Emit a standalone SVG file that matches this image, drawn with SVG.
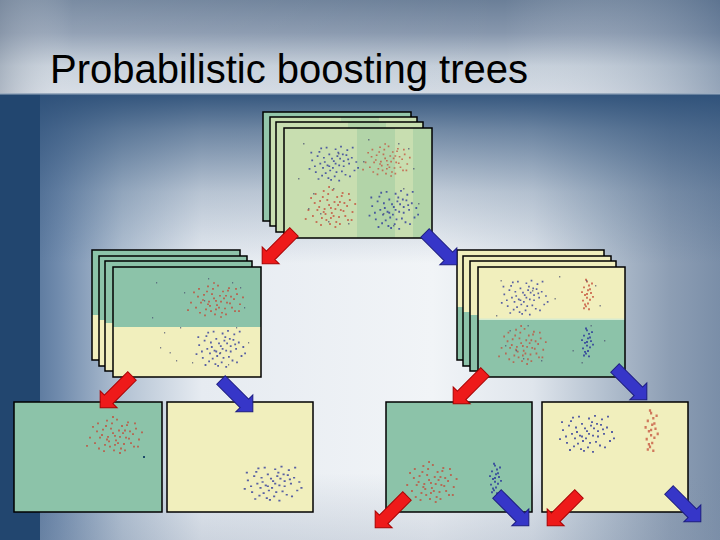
<svg xmlns="http://www.w3.org/2000/svg" xmlns:xlink="http://www.w3.org/1999/xlink" width="720" height="540" viewBox="0 0 720 540">
<style>
.fr{fill:none;stroke:#000;stroke-width:1.5}
.gr{fill:#8cc3a9}
.ye{fill:#f1efbd}
.lg{fill:#c8deb0}
.band{fill:#b2d4a8}
.red{fill:#c44a36;fill-opacity:0.72}
.blu{fill:#26309a;fill-opacity:0.75}
.nz{fill:#4a5070;fill-opacity:0.7}
.ar{stroke-width:1;stroke-linejoin:miter}
.arR{fill:#ee1a1a;stroke:#a80000}
.arB{fill:#3636c8;stroke:#1c1c80}
.title{font-family:"Liberation Sans",Arial,sans-serif;font-size:40px;fill:#000}
</style>
<defs>
<linearGradient id="tg" x1="0" y1="0" x2="0" y2="1">
<stop offset="0" stop-color="#6b7f98"/>
<stop offset="0.35" stop-color="#8797ad"/>
<stop offset="0.7" stop-color="#c4ced9"/>
<stop offset="1" stop-color="#d3dae3"/>
</linearGradient>
<linearGradient id="th" x1="0" y1="0" x2="1" y2="0">
<stop offset="0" stop-color="#8a96a6" stop-opacity="0.5"/>
<stop offset="0.1" stop-color="#ffffff" stop-opacity="0.1"/>
<stop offset="0.7" stop-color="#ffffff" stop-opacity="0"/>
<stop offset="1" stop-color="#4d6788" stop-opacity="0.45"/>
</linearGradient>
<linearGradient id="bh" x1="0" y1="0" x2="1" y2="0">
<stop offset="0" stop-color="#3d5f88"/>
<stop offset="0.08" stop-color="#6f8aac"/>
<stop offset="0.17" stop-color="#b3c2d3"/>
<stop offset="0.28" stop-color="#e6ebf1"/>
<stop offset="0.6" stop-color="#f1f4f7"/>
<stop offset="0.74" stop-color="#dfe5ec"/>
<stop offset="0.84" stop-color="#b3c0cf"/>
<stop offset="0.93" stop-color="#8d9eb4"/>
<stop offset="1" stop-color="#7a8ea8"/>
</linearGradient>
<linearGradient id="bv" x1="0" y1="0" x2="0" y2="1">
<stop offset="0" stop-color="#2c4f78" stop-opacity="0.95"/>
<stop offset="0.08" stop-color="#2c4f78" stop-opacity="0.65"/>
<stop offset="0.22" stop-color="#2c4f78" stop-opacity="0.25"/>
<stop offset="0.38" stop-color="#2c4f78" stop-opacity="0"/>
<stop offset="0.85" stop-color="#8090a8" stop-opacity="0"/>
<stop offset="1" stop-color="#8090a8" stop-opacity="0.25"/>
</linearGradient>
<path id="rc" class="red" d="M-2,-3h2v2h-2zM5,1h2v2h-2zM-8,4h2v2h-2zM10,-6h2v2h-2zM3,8h2v2h-2zM-12,-7h2v2h-2zM14,3h2v2h-2zM-5,12h2v2h-2zM7,-11h2v2h-2zM-15,2h2v2h-2zM0,0h2v2h-2zM18,-2h2v2h-2zM-3,-14h2v2h-2zM9,9h2v2h-2zM-10,10h2v2h-2zM12,-12h2v2h-2zM-18,-5h2v2h-2zM4,-6h2v2h-2zM-6,6h2v2h-2zM16,8h2v2h-2zM-1,16h2v2h-2zM21,-8h2v2h-2zM-20,8h2v2h-2zM6,14h2v2h-2zM-9,-11h2v2h-2zM2,-18h2v2h-2zM11,2h2v2h-2zM-13,-1h2v2h-2zM19,12h2v2h-2zM-16,14h2v2h-2zM8,-3h2v2h-2zM-4,-8h2v2h-2zM13,-15h2v2h-2zM-22,-10h2v2h-2zM24,4h2v2h-2zM1,5h2v2h-2zM-7,1h2v2h-2zM15,-5h2v2h-2zM-11,17h2v2h-2zM5,19h2v2h-2zM-25,2h2v2h-2zM27,-4h2v2h-2zM-2,-21h2v2h-2zM10,16h2v2h-2zM-17,-14h2v2h-2zM20,-14h2v2h-2zM0,10h2v2h-2zM-8,-17h2v2h-2zM23,12h2v2h-2zM-28,11h2v2h-2z"/>
<path id="bc" class="blu" d="M1,-2h2v2h-2zM-6,3h2v2h-2zM8,-5h2v2h-2zM-3,9h2v2h-2zM12,4h2v2h-2zM-10,-6h2v2h-2zM4,11h2v2h-2zM-14,1h2v2h-2zM6,-12h2v2h-2zM15,-9h2v2h-2zM-8,12h2v2h-2zM0,6h2v2h-2zM-17,-8h2v2h-2zM10,10h2v2h-2zM-4,-10h2v2h-2zM18,1h2v2h-2zM-12,15h2v2h-2zM3,-16h2v2h-2zM-20,4h2v2h-2zM14,14h2v2h-2zM-1,-5h2v2h-2zM7,3h2v2h-2zM-9,-1h2v2h-2zM21,-6h2v2h-2zM-15,-13h2v2h-2zM9,-19h2v2h-2zM-5,18h2v2h-2zM24,9h2v2h-2zM-23,-3h2v2h-2zM2,16h2v2h-2zM16,-15h2v2h-2zM-11,6h2v2h-2zM5,-8h2v2h-2zM-19,11h2v2h-2zM12,-2h2v2h-2zM-2,20h2v2h-2zM26,-1h2v2h-2zM-26,7h2v2h-2zM7,21h2v2h-2zM-7,-18h2v2h-2zM19,16h2v2h-2zM-13,-17h2v2h-2zM11,-10h2v2h-2zM-24,-12h2v2h-2zM22,-18h2v2h-2zM3,1h2v2h-2zM-4,4h2v2h-2zM28,6h2v2h-2zM-16,19h2v2h-2zM17,-4h2v2h-2z"/>
<path id="rn" class="red" d="M0,-14h2v2h-2zM2,-10h2v2h-2zM-3,-8h2v2h-2zM1,-5h2v2h-2zM4,-2h2v2h-2zM-2,0h2v2h-2zM0,3h2v2h-2zM3,5h2v2h-2zM-4,6h2v2h-2zM1,9h2v2h-2zM-1,12h2v2h-2zM5,-12h2v2h-2zM-5,-3h2v2h-2zM2,15h2v2h-2zM-3,14h2v2h-2zM6,2h2v2h-2zM-1,-16h2v2h-2zM3,-6h2v2h-2zM-2,10h2v2h-2zM0,-1h2v2h-2z"/>
<path id="bn" class="blu" d="M0,-14h2v2h-2zM2,-10h2v2h-2zM-3,-8h2v2h-2zM1,-5h2v2h-2zM4,-2h2v2h-2zM-2,0h2v2h-2zM0,3h2v2h-2zM3,5h2v2h-2zM-4,6h2v2h-2zM1,9h2v2h-2zM-1,12h2v2h-2zM5,-12h2v2h-2zM-5,-3h2v2h-2zM2,15h2v2h-2zM-3,14h2v2h-2zM6,2h2v2h-2zM-1,-16h2v2h-2zM3,-6h2v2h-2zM-2,10h2v2h-2zM0,-1h2v2h-2z"/>
<path id="nz" class="nz" d="M-55,-40h1.5v1.5h-1.5zM-30,38h1.5v1.5h-1.5zM50,-35h1.5v1.5h-1.5zM60,20h1.5v1.5h-1.5zM-45,10h1.5v1.5h-1.5zM35,42h1.5v1.5h-1.5zM-60,-5h1.5v1.5h-1.5zM10,-44h1.5v1.5h-1.5zM-20,-30h1.5v1.5h-1.5zM45,5h1.5v1.5h-1.5zM-38,30h1.5v1.5h-1.5zM55,-15h1.5v1.5h-1.5zM25,30h1.5v1.5h-1.5zM-10,40h1.5v1.5h-1.5zM40,-40h1.5v1.5h-1.5zM-50,25h1.5v1.5h-1.5zM5,-22h1.5v1.5h-1.5zM-25,5h1.5v1.5h-1.5z"/>
<path id="arr" d="M0,-6H33V-12L45,0L33,12V6H0Z"/>
</defs>

<!-- background -->
<rect x="0" y="0" width="720" height="94" fill="url(#tg)"/>
<rect x="0" y="0" width="720" height="94" fill="url(#th)"/>
<rect x="0" y="94" width="720" height="446" fill="url(#bh)"/>
<rect x="0" y="94" width="720" height="446" fill="url(#bv)"/>
<rect x="0" y="94" width="40" height="446" fill="#22466f"/>
<rect x="0" y="93" width="720" height="1.5" fill="#9aabbf"/>

<text id="title" class="title" x="50" y="83">Probabilistic boosting trees</text>

<g id="node-top">
<rect x="263" y="112" width="148" height="109" fill="#93c6ab"/><rect class="fr" x="263" y="112" width="148" height="109"/>
<rect x="270" y="117" width="147" height="109" class="lg"/><rect class="band" x="341" y="117" width="38" height="109"/><rect class="fr" x="270" y="117" width="147" height="109"/>
<rect x="276" y="122" width="147" height="110" class="lg"/><rect class="band" x="348" y="122" width="38" height="110"/><rect class="fr" x="276" y="122" width="147" height="110"/>
<rect x="284" y="128" width="148" height="110" class="lg"/>
<rect class="band" x="357" y="128" width="38" height="110"/>
<rect class="band" x="413" y="128" width="19" height="110"/>
<use href="#bc" transform="translate(332,162) scale(0.9,0.85)"/>
<use href="#rc" transform="translate(386,160) scale(0.85,0.8)"/>
<use href="#rc" transform="translate(330,207) scale(0.9,1)"/>
<use href="#bc" transform="translate(392,208) scale(0.9,0.95)"/>
<use href="#nz" transform="translate(358,183)"/>
<rect class="fr" x="284" y="128" width="148" height="110"/>
</g>

<g id="node-left">
<rect class="ye" x="92" y="250" width="148" height="110"/><rect class="gr" x="92" y="250" width="148" height="65"/><rect class="fr" x="92" y="250" width="148" height="110"/>
<rect class="ye" x="99" y="256" width="148" height="110"/><rect class="gr" x="99" y="256" width="148" height="64"/><rect class="fr" x="99" y="256" width="148" height="110"/>
<rect class="ye" x="105" y="261" width="147" height="110"/><rect class="gr" x="105" y="261" width="147" height="62"/><rect class="fr" x="105" y="261" width="147" height="110"/>
<rect class="ye" x="113" y="267" width="148" height="110"/><rect class="gr" x="113" y="267" width="148" height="60"/>
<use href="#rc" transform="translate(215,300) scale(1,0.85)"/>
<use href="#bc" transform="translate(219,347) scale(0.9,0.9)"/>
<use href="#nz" transform="translate(200,322) scale(0.8,1)"/>
<rect class="fr" x="113" y="267" width="148" height="110"/>
</g>

<g id="node-right">
<rect class="ye" x="457" y="250" width="147" height="110"/><rect class="gr" x="457" y="307" width="147" height="53"/><rect class="fr" x="457" y="250" width="147" height="110"/>
<rect class="ye" x="463" y="256" width="148" height="110"/><rect class="gr" x="463" y="312" width="148" height="54"/><rect class="fr" x="463" y="256" width="148" height="110"/>
<rect class="ye" x="470" y="261" width="146" height="110"/><rect class="gr" x="470" y="315" width="146" height="56"/><rect class="fr" x="470" y="261" width="146" height="110"/>
<rect class="ye" x="478" y="267" width="147" height="110"/><rect class="gr" x="478" y="319" width="147" height="58"/>
<rect x="478" y="318.5" width="147" height="1.5" fill="#d8ecd0"/>
<use href="#bc" transform="translate(523,296) scale(0.85,0.85)"/>
<use href="#rn" transform="translate(586,294) scale(1,0.95)"/>
<use href="#rc" transform="translate(522,345) scale(0.85,0.95)"/>
<use href="#bn" transform="translate(586,342) scale(1,0.9)"/>
<use href="#nz" transform="translate(550,320) scale(0.9,1)"/>
<rect class="fr" x="478" y="267" width="147" height="110"/>
</g>

<g id="node-ll">
<rect class="gr" x="14" y="402" width="148" height="110"/>
<use href="#rc" transform="translate(114,435) scale(1,0.9)"/>
<rect x="143" y="456" width="2" height="2" fill="#1d4a6a"/>
<rect class="fr" x="14" y="402" width="148" height="110"/>
</g>

<g id="node-lr">
<rect class="ye" x="167" y="402" width="146" height="110"/>
<use href="#bc" transform="translate(271,482) scale(1.05,0.85)"/>
<rect class="fr" x="167" y="402" width="146" height="110"/>
</g>

<g id="node-rl">
<rect class="gr" x="386" y="402" width="146" height="110"/>
<use href="#rc" transform="translate(430,482) scale(0.95,1)"/>
<use href="#bn" transform="translate(494,478) scale(1,0.95)"/>
<rect class="fr" x="386" y="402" width="146" height="110"/>
</g>

<g id="node-rr">
<rect class="ye" x="542" y="402" width="146" height="110"/>
<use href="#bc" transform="translate(585,432) scale(1,0.9)"/>
<use href="#rn" transform="translate(650,430) scale(1.1,1.3)"/>
<rect class="fr" x="542" y="402" width="146" height="110"/>
</g>

<g id="connectors">
<use href="#arr" class="ar arR" transform="translate(294,232) rotate(135)"/>
<use href="#arr" class="ar arB" transform="translate(425,233) rotate(45)"/>
<use href="#arr" class="ar arR" transform="translate(132,376) rotate(135)"/>
<use href="#arr" class="ar arB" transform="translate(221,380) rotate(45)"/>
<use href="#arr" class="ar arR" transform="translate(485,372) rotate(135)"/>
<use href="#arr" class="ar arB" transform="translate(615,368) rotate(45)"/>
<use href="#arr" class="ar arR" transform="translate(407,496) rotate(135)"/>
<use href="#arr" class="ar arB" transform="translate(497,494) rotate(45)"/>
<use href="#arr" class="ar arR" transform="translate(579,494) rotate(135)"/>
<use href="#arr" class="ar arB" transform="translate(669,490) rotate(45)"/>
</g>
</svg>
